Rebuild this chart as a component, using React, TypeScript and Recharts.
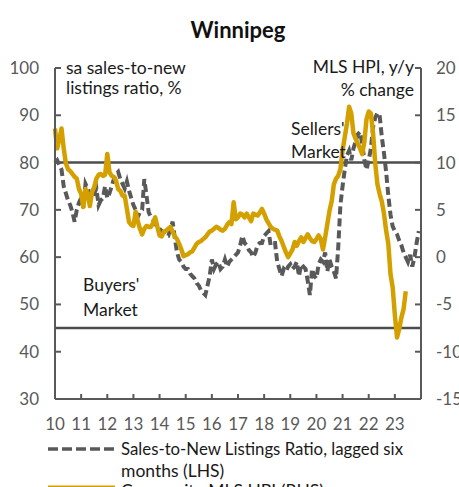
import React from 'react';
import { LineChart, Line, XAxis, YAxis, ReferenceLine } from 'recharts';

// Sales-to-new listings ratio, lagged six months (LHS, %), monthly from Jan 2010
const ratioValues: number[] = [
  80, 80.5, 79.5, 78.5, 75, 73.5, 72, 71, 69.5, 67.5, 70, 71.5,
  72.5, 70.5, 75.5, 74.5, 73.5, 72.5, 73.5, 74.5, 71, 72, 72.5, 75,
  72.5, 73.5, 75, 76.5, 77.5, 78, 76.5, 75.5, 74.5, 76, 74, 72.5,
  71, 70, 68.5, 69.5, 70, 76.5, 73, 69.5, 68.5, 68, 67, 66.5,
  66, 65.5, 65, 64.5, 64.5, 66, 67.5, 64, 61, 59.5, 59, 58,
  57.5, 57.5, 56.5, 56, 55.5, 54.5, 54, 53, 52.5, 52, 54, 56,
  59.5, 57.5, 58.5, 59, 57.5, 58, 59.5, 58, 59, 59.5, 60, 60.5,
  61, 62.5, 64.5, 63, 62.5, 61.5, 61, 60, 61, 62.5, 63, 63,
  64.5, 65, 65.5, 62.5, 63, 63, 59, 57.5, 56, 57.5, 57, 58,
  58.5, 57.5, 58, 59, 56, 58.5, 58, 57.5, 55, 52, 57.5, 56,
  55.5, 58.5, 59.5, 59, 61, 57, 59.5, 58, 57, 55.5, 62, 71,
  75, 78.5, 81.5, 82.5, 80.5, 83, 84.5, 86, 86.5, 84, 80.5, 78.5,
  80.5, 83, 87.5, 89.5, 90.5, 90, 85.5, 82, 78, 73, 69, 66.5,
  65.5, 64.8, 63.5, 62.5, 61, 60, 59, 60.5, 58, 60, 63, 65.5,
];

// Composite MLS HPI, y/y % change (RHS), monthly from Jan 2010
const hpiValues: number[] = [
  13.6, 11.5, 12.5, 13.6, 11.5, 9.9, 9.3, 9.1, 8.8, 8.5, 8.3, 7.2,
  6.7, 5.3, 7.2, 6.7, 5.4, 6.9, 7.4, 8.3, 8.7, 8.8, 8.6, 8.7,
  10.9, 9.0, 8.6, 8.5, 8.1, 7.2, 7.0, 6.5, 6.5, 5.1, 3.7, 3.4,
  3.3, 4.8, 3.8, 3.0, 2.4, 3.0, 3.3, 3.2, 3.2, 3.6, 4.2, 3.2,
  2.3, 2.2, 2.7, 2.8, 3.0, 3.2, 2.7, 2.2, 1.9, 1.4, 0.8, 0.1,
  0.2, 0.3, 0.5, 0.6, 1.0, 1.4, 1.6, 1.7, 1.9, 2.1, 2.4, 2.7,
  2.8, 3.0, 3.2, 3.1, 2.9, 2.8, 3.0, 3.4, 3.7, 3.5, 5.8, 4.0,
  4.2, 4.6, 4.5, 4.2, 4.6, 4.2, 3.8, 4.6, 4.5, 4.4, 4.7, 5.1,
  4.6, 4.0, 3.6, 3.2, 3.0, 2.9, 2.8, 2.2, 1.7, 1.1, 0.5, 0.0,
  0.4, 0.8, 1.6, 1.2, 1.7, 2.1, 1.6, 2.0, 2.4, 2.0, 1.7, 1.6,
  1.9, 2.3, 1.9, 0.8, 2.1, 3.5, 4.9, 5.9, 7.7, 8.3, 8.6, 9.3,
  11.3, 12.7, 14.1, 15.9, 15.2, 13.1, 12.5, 12.0, 11.5, 10.9, 12.2, 14.6,
  15.4, 15.2, 13.1, 9.9, 7.7, 6.7, 5.9, 4.6, 2.8, 1.4, -1.8, -3.2,
  -6.1, -8.5, -7.6, -6.4, -5.5, -3.6,
];

const startYear = 2010;
const yearTicks: number[] = [2010, 2011, 2012, 2013, 2014, 2015, 2016, 2017, 2018, 2019, 2020, 2021, 2022, 2023];
const leftTicks: number[] = [30, 40, 50, 60, 70, 80, 90, 100];
const rightTicks: number[] = [-15, -10, -5, 0, 5, 10, 15, 20];
const sellersThreshold = 80;
const buyersThreshold = 45;

const data = ratioValues.map((r, i) => ({
  t: startYear + i / 12,
  ratio: r,
  hpi: i < hpiValues.length ? hpiValues[i] : null,
}));

const GRAY = '#595959';
const GOLD = '#D4A000';
const FONT = 'Lato, "DejaVu Sans", sans-serif';

const LeftTick = (props: any) => {
  const { x, y, payload } = props;
  return (
    <g>
      <line x1={x} x2={x + 6} y1={y} y2={y} stroke={GRAY} strokeWidth={2} />
      <text x={x - 16} y={y} dy={6} textAnchor="end" fill={GRAY} fontSize={17} fontFamily={FONT}>
        {payload.value}
      </text>
    </g>
  );
};

const RightTick = (props: any) => {
  const { x, y, payload } = props;
  return (
    <g>
      <line x1={x - 6} x2={x} y1={y} y2={y} stroke={GRAY} strokeWidth={2} />
      <text x={x + 15} y={y} dy={6} textAnchor="start" fill={GRAY} fontSize={17} fontFamily={FONT}>
        {payload.value}
      </text>
    </g>
  );
};

const BottomTick = (props: any) => {
  const { x, y, payload } = props;
  return (
    <g>
      <line x1={x} x2={x} y1={y - 5} y2={y} stroke={GRAY} strokeWidth={2} />
      <text x={x} y={y + 31} textAnchor="middle" fill={GRAY} fontSize={17} fontFamily={FONT}>
        {String(payload.value).slice(2)}
      </text>
    </g>
  );
};

const textStyle: React.CSSProperties = { fontFamily: FONT };

export default function App() {
  return (
    <div style={{ position: 'absolute', left: 0, top: 0, width: 459, height: 487, overflow: 'hidden', background: '#fff' }}>
      <LineChart
        width={459}
        height={487}
        data={data}
        margin={{ top: 68, right: 0, bottom: 0, left: 0 }}
      >
        <XAxis
          dataKey="t"
          type="number"
          domain={[2010, 2024]}
          ticks={yearTicks}
          height={88}
          axisLine={{ stroke: GRAY, strokeWidth: 2 }}
          tickLine={false}
          tickSize={0}
          tickMargin={0}
          tick={<BottomTick />}
          interval={0}
        />
        <YAxis
          yAxisId="left"
          orientation="left"
          width={55}
          domain={[30, 100]}
          ticks={leftTicks}
          axisLine={{ stroke: GRAY, strokeWidth: 2 }}
          tickLine={false}
          tickSize={0}
          tickMargin={0}
          tick={<LeftTick />}
          interval={0}
        />
        <YAxis
          yAxisId="right"
          orientation="right"
          width={38}
          domain={[-15, 20]}
          ticks={rightTicks}
          axisLine={{ stroke: GRAY, strokeWidth: 2 }}
          tickLine={false}
          tickSize={0}
          tickMargin={0}
          tick={<RightTick />}
          interval={0}
        />
        <ReferenceLine yAxisId="left" y={sellersThreshold} stroke="#4d4d4d" strokeWidth={2.5} />
        <ReferenceLine yAxisId="left" y={buyersThreshold} stroke="#4d4d4d" strokeWidth={2.5} />
        <Line
          yAxisId="left"
          dataKey="ratio"
          stroke={GRAY}
          strokeWidth={4}
          strokeDasharray="8 4"
          dot={false}
          isAnimationActive={false}
          type="linear"
        />
        <Line
          yAxisId="right"
          dataKey="hpi"
          stroke={GOLD}
          strokeWidth={4.5}
          strokeLinejoin="round"
          dot={false}
          isAnimationActive={false}
          type="linear"
          connectNulls={false}
        />
      </LineChart>
      <svg
        width={459}
        height={487}
        style={{ position: 'absolute', left: 0, top: 0, pointerEvents: 'none' }}
      >
        <text x={238} y={38} textAnchor="middle" fontSize={22} fontWeight="bold" fill="#111" style={textStyle}>
          Winnipeg
        </text>
        <text x={66} y={74} fontSize={17.5} fill="#1a1a1a" style={textStyle}>sa sales-to-new</text>
        <text x={66} y={94} fontSize={17.5} fill="#1a1a1a" style={textStyle}>listings ratio, %</text>
        <text x={414} y={73} textAnchor="end" fontSize={17.5} fill="#1a1a1a" style={textStyle}>MLS HPI, y/y</text>
        <text x={414} y={96} textAnchor="end" fontSize={17.5} fill="#1a1a1a" style={textStyle}>% change</text>
        <text x={291} y={135} fontSize={17.5} fill="#1a1a1a" style={textStyle}>Sellers'</text>
        <text x={291} y={158} fontSize={17.5} fill="#1a1a1a" style={textStyle}>Market</text>
        <text x={83} y={291} fontSize={17.5} fill="#1a1a1a" style={textStyle}>Buyers'</text>
        <text x={83} y={316} fontSize={17.5} fill="#1a1a1a" style={textStyle}>Market</text>
        <line x1={48} x2={115} y1={449} y2={449} stroke={GRAY} strokeWidth={3.5} strokeDasharray="10 4" />
        <text x={121} y={455} fontSize={17.5} fill="#1a1a1a" style={textStyle} textLength={282} lengthAdjust="spacingAndGlyphs">
          Sales-to-New Listings Ratio, lagged six
        </text>
        <text x={121} y={477} fontSize={17.5} fill="#1a1a1a" style={textStyle}>months (LHS)</text>
        <line x1={48} x2={115} y1={487} y2={487} stroke={GOLD} strokeWidth={3} />
        <text x={121} y={497} fontSize={17.5} fill="#1a1a1a" style={textStyle}>Composite MLS HPI (RHS)</text>
      </svg>
    </div>
  );
}
